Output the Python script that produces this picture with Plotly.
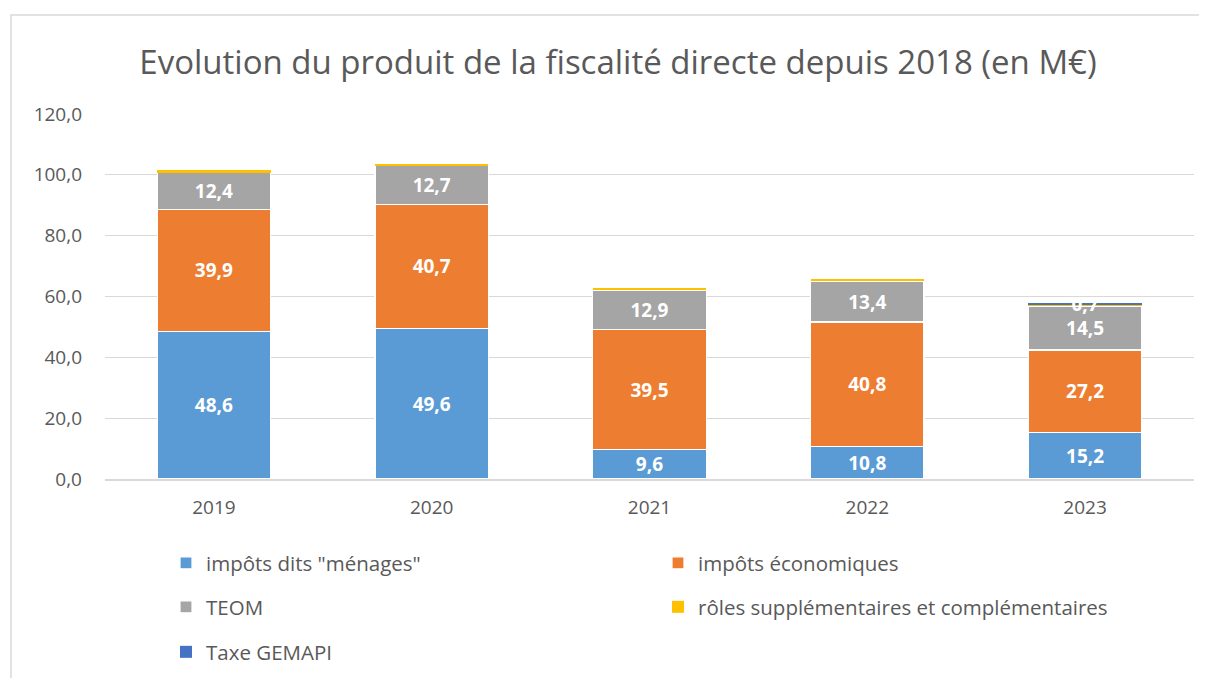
import plotly.graph_objects as go

years = ["2019", "2020", "2021", "2022", "2023"]
menages = [48.6, 49.6, 9.6, 10.8, 15.2]
economiques = [39.9, 40.7, 39.5, 40.8, 27.2]
teom = [12.4, 12.7, 12.9, 13.4, 14.5]
roles = [0.6, 0.6, 0.9, 0.7, 0.3]
gemapi = [None, None, None, None, 0.7]
y_ticks = [0, 20, 40, 60, 80, 100, 120]

# page offset (default body margin of the html page)
OFF = 8
W, H = 1207, 678
# target positions in screenshot pixels
L, R, T, B = 105, 1194, 114, 479
pw, ph = R - L, B - T

def px(x):
    return (x - L) / pw

def py(y):
    return (B - y) / ph

FONT = "Open Sans"

def fmt(vals):
    return [("" if v is None else f"{v:.1f}".replace(".", ",")) for v in vals]

series = [
    ("impôts dits \"ménages\"", menages, "#5B9BD5", True, "legend", 1.2),
    ("impôts économiques", economiques, "#ED7D31", True, "legend", 1.2),
    ("TEOM", teom, "#A5A5A5", True, "legend2", 1.2),
    ("rôles supplémentaires et complémentaires", roles, "#FFC000", False, "legend2", 0),
    ("Taxe GEMAPI", gemapi, "#4472C4", True, "legend3", 0),
]

fig = go.Figure()
for name, vals, col, show, lg, lw in series:
    fig.add_trace(go.Bar(
        x=years, y=vals, name=name,
        marker=dict(color=col, line=dict(color="white", width=lw)),
        text=fmt(vals) if show else None,
        textposition="inside" if show else "none",
        insidetextanchor="middle",
        textfont=dict(family=FONT, size=19, color="white", weight="bold"),
        legend=lg,
        hoverinfo="skip",
    ))

leg_common = dict(orientation="h", font=dict(family=FONT, size=20.5, color="#595959"),
                  entrywidth=447, entrywidthmode="pixels", itemwidth=30,
                  traceorder="normal",
                  xanchor="left", yanchor="middle", bgcolor="rgba(0,0,0,0)",
                  tracegroupgap=0)

fig.update_layout(
    width=W, height=H,
    margin=dict(l=L - OFF, r=W - R + OFF, t=T - OFF, b=H - B + OFF, pad=0, autoexpand=False),
    paper_bgcolor="white", plot_bgcolor="white",
    barmode="stack", bargap=0.48,
    separators=", ",
    uniformtext=dict(minsize=19, mode="show"),
    title=dict(text="Evolution du produit de la fiscalité directe depuis 2018 (en M€)",
               x=((143 + 1093) / 2 - OFF) / W, xanchor="center", y=1 - (62 - OFF) / H,
               yanchor="middle",
               font=dict(family=FONT, size=33, color="#595959")),
    xaxis=dict(type="category", range=[-0.5, len(years) - 0.5], showline=True,
               linecolor="#D9D9D9", linewidth=1.5, ticks="",
               tickfont=dict(family=FONT, size=19, color="#595959"), ticklabelstandoff=10),
    yaxis=dict(range=[0, 120], tickvals=y_ticks, tickformat=".1f",
               showgrid=True, gridcolor="#D9D9D9", gridwidth=1.2, zeroline=False,
               ticks="", tickfont=dict(family=FONT, size=19, color="#595959"),
               ticklabelstandoff=22),
    legend=dict(x=px(166), y=py(563), **leg_common),
    legend2=dict(x=px(166), y=py(607), **leg_common),
    legend3=dict(x=px(166), y=py(652), **leg_common),
    showlegend=True,
    shapes=[dict(type="rect", xref="paper", yref="paper",
                 x0=px(11), x1=px(1230), y0=py(15), y1=py(720),
                 line=dict(color="#D9D9D9", width=1.5), fillcolor="rgba(0,0,0,0)", layer="below")],
)

fig.write_html("out.html")
